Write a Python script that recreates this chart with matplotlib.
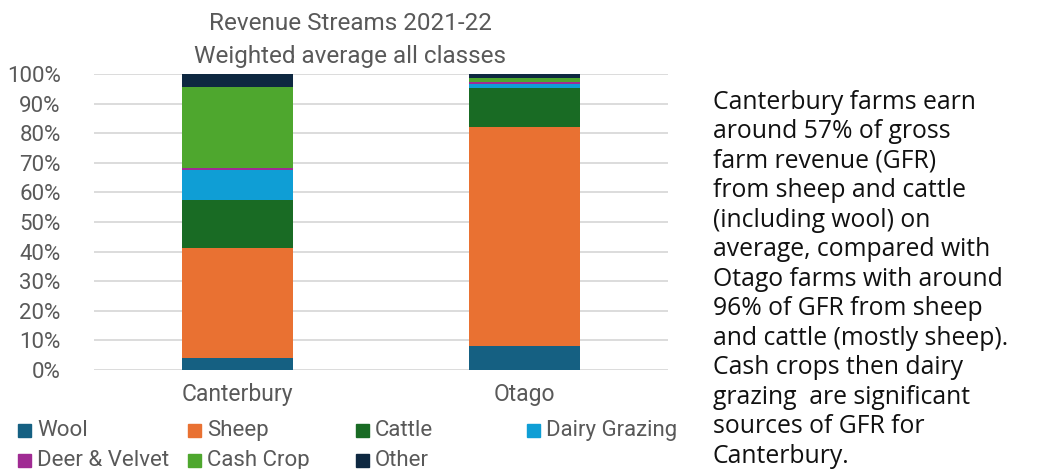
import matplotlib.pyplot as plt
import numpy as np
from matplotlib.patches import Rectangle
from matplotlib.ticker import PercentFormatter

# 데이터 (그림에서 읽은 값, %)
regions = ["Canterbury", "Otago"]
streams = ["Wool", "Sheep", "Cattle", "Dairy Grazing", "Deer & Velvet", "Cash Crop", "Other"]
wool = [4.0, 8.2]
sheep = [37.1, 74.0]
cattle = [16.2, 13.0]
dairy = [10.3, 1.3]
deer = [0.6, 0.9]
cash_crop = [27.3, 1.2]
other = [4.5, 1.4]
colors = ["#156082", "#E97132", "#196B24", "#0F9ED5", "#A02B93", "#4EA72E", "#0E2841"]

note = ("Canterbury farms earn\naround 57% of gross\nfarm revenue (GFR)\nfrom sheep and cattle\n"
        "(including wool) on\naverage, compared with\nOtago farms with around\n96% of GFR from sheep\n"
        "and cattle (mostly sheep).\nCash crops then dairy\ngrazing  are significant\n"
        "sources of GFR for\nCanterbury.")

txt = "#595959"
chart_font = ["Roboto", "DejaVu Sans"]
W, H = 1047, 469

fig = plt.figure(figsize=(10.47, 4.69), dpi=100)
ax = fig.add_axes([94 / W, 1 - 370 / H, 574 / W, 296 / H])

series = [wool, sheep, cattle, dairy, deer, cash_crop, other]
x = np.arange(len(regions))
bottom = np.zeros(len(regions))
for vals, c in zip(series, colors):
    v = np.array(vals) / 100
    ax.bar(x, v, width=0.39, bottom=bottom, color=c, zorder=3)
    bottom += v

ax.set_xlim(-0.5, 1.5)
ax.set_ylim(0, 1)
ax.set_yticks(np.arange(0, 1.01, 0.1))
ax.yaxis.set_major_formatter(PercentFormatter(1.0, decimals=0))
ax.set_xticks(x)
ax.set_xticklabels(regions)
ax.grid(axis="y", color="#d9d9d9", linewidth=1.3, zorder=0)
for s in ax.spines.values():
    s.set_visible(False)
ax.tick_params(length=0, colors=txt, labelsize=16)
ax.tick_params(axis="x", pad=9)
ax.tick_params(axis="y", pad=24)
for lab in ax.get_xticklabels() + ax.get_yticklabels():
    lab.set_family(chart_font)
    lab.set_color(txt)
for lab in ax.get_xticklabels():
    lab.set_fontsize(16.5)

fig.text(350 / W, 1 - 24 / H, "Revenue Streams 2021-22", ha="center", va="center",
         fontsize=17.5, color=txt, family=chart_font)
fig.text(350 / W, 1 - 57 / H, "Weighted average all classes", ha="center", va="center",
         fontsize=17.5, color=txt, family=chart_font)

# 범례 (행 순서대로 배치)
leg_x = [18, 188, 356, 527]
leg_y = [430, 460]
for i, (name, c) in enumerate(zip(streams, colors)):
    col, row = i % 4, i // 4
    lx, ly = leg_x[col], leg_y[row]
    fig.patches.append(Rectangle((lx / W, 1 - (ly + 6.5) / H), 13 / W, 13 / H,
                                 color=c, transform=fig.transFigure))
    fig.text((lx + 19) / W, 1 - ly / H, name, ha="left", va="center",
             fontsize=16, color=txt, family=chart_font)

fig.text(713 / W, 1 - 90 / H, note, ha="left", va="top", fontsize=17.8,
         color="#111111", family=["Open Sans", "DejaVu Sans"], linespacing=1.235)

fig.savefig("out.png", dpi=100)
